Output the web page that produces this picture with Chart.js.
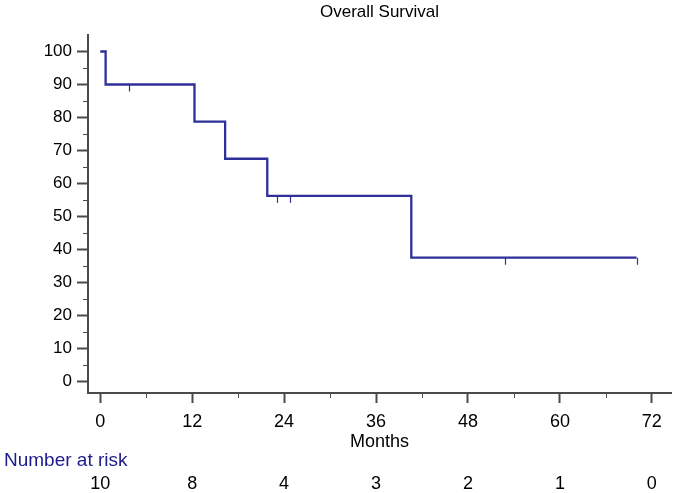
<!DOCTYPE html>
<html>
<head>
<meta charset="utf-8">
<script src="https://cdn.jsdelivr.net/npm/chart.js@4"></script>
<style>
  html, body { margin: 0; padding: 0; background: #fff; }
  #wrap { width: 676px; height: 493px; }
</style>
</head>
<body>
<div id="wrap"><canvas id="km" width="676" height="493"></canvas></div>
<script>
// Kaplan-Meier steps (months, % surviving)
const stepMonths = [0, 0.7, 12.3, 16.3, 21.8, 40.6, 70];
const stepSurvival = [100, 90, 78.75, 67.5, 56.25, 37.5, 37.5];

// censored observations
const censorMonths = [3.8, 23.1, 24.8, 52.8, 70];
const censorSurvival = [90, 56.25, 56.25, 37.5, 37.5];

// axis ticks
const xTicks = [0, 12, 24, 36, 48, 60, 72];
const yTicks = [0, 10, 20, 30, 40, 50, 60, 70, 80, 90, 100];

// number at risk under each x tick
const atRisk = [10, 8, 4, 3, 2, 1, 0];

const axisColor = '#4a4a4a';
const curveColor = '#2f2f9c';
const fontFamily = "'Liberation Sans', Arial, sans-serif";

// title, minor ticks, censor marks and the risk table
const extras = {
  id: 'extras',
  afterDraw(chart) {
    const ctx = chart.ctx;
    const xs = chart.scales.x;
    const ys = chart.scales.y;
    const area = chart.chartArea;
    ctx.save();

    // title centred over the plot area
    ctx.fillStyle = '#000';
    ctx.font = '17px ' + fontFamily;
    ctx.textAlign = 'center';
    ctx.textBaseline = 'middle';
    ctx.fillText('Overall Survival', (area.left + area.right) / 2, 12);

    // minor ticks
    ctx.strokeStyle = axisColor;
    ctx.lineWidth = 1;
    yTicks.slice(0, -1).forEach(v => {
      const py = Math.round(ys.getPixelForValue(v + 5)) + 0.5;
      ctx.beginPath();
      ctx.moveTo(area.left - 5, py);
      ctx.lineTo(area.left, py);
      ctx.stroke();
    });
    xTicks.slice(0, -1).forEach(v => {
      const px = Math.round(xs.getPixelForValue(v + 6)) + 0.5;
      ctx.beginPath();
      ctx.moveTo(px, area.bottom);
      ctx.lineTo(px, area.bottom + 5);
      ctx.stroke();
    });

    // censor marks
    ctx.strokeStyle = curveColor;
    ctx.lineWidth = 1.2;
    censorMonths.forEach((m, i) => {
      const px = Math.round(xs.getPixelForValue(m)) + 0.5;
      const py = ys.getPixelForValue(censorSurvival[i]);
      ctx.beginPath();
      ctx.moveTo(px, py);
      ctx.lineTo(px, py + 7);
      ctx.stroke();
    });

    // number at risk
    ctx.font = '19px ' + fontFamily;
    ctx.fillStyle = '#1c1c8c';
    ctx.textAlign = 'left';
    ctx.fillText('Number at risk', 4, 461);
    ctx.font = '18px ' + fontFamily;
    ctx.fillStyle = '#000';
    ctx.textAlign = 'center';
    xTicks.forEach((v, i) => {
      ctx.fillText(String(atRisk[i]), xs.getPixelForValue(v), 484);
    });
    ctx.restore();
  }
};

new Chart(document.getElementById('km'), {
  type: 'line',
  data: {
    datasets: [{
      data: stepMonths.map((m, i) => ({ x: m, y: stepSurvival[i] })),
      stepped: 'before',
      borderColor: curveColor,
      borderWidth: 2.3,
      pointRadius: 0,
      fill: false
    }]
  },
  options: {
    responsive: false,
    animation: false,
    layout: { padding: { left: 0, right: 5, top: 35, bottom: 0 } },
    plugins: {
      legend: { display: false },
      tooltip: { enabled: false },
      title: { display: false }
    },
    scales: {
      x: {
        type: 'linear',
        min: -1.6,
        max: 74.5,
        afterBuildTicks: s => { s.ticks = xTicks.map(v => ({ value: v })); },
        afterFit: s => { s.height = 100; },
        grid: { drawOnChartArea: false, tickLength: 10, tickWidth: 2, tickColor: axisColor },
        border: { display: true, color: axisColor, width: 2 },
        ticks: { color: '#000', font: { family: fontFamily, size: 18 }, padding: 8, maxRotation: 0 },
        title: {
          display: true,
          text: 'Months',
          color: '#000',
          font: { family: fontFamily, size: 18 },
          padding: { top: 0, bottom: 40 }
        }
      },
      y: {
        type: 'linear',
        min: -3.5,
        max: 105,
        afterBuildTicks: s => { s.ticks = yTicks.map(v => ({ value: v })); },
        afterFit: s => { s.width = 88; },
        grid: { drawOnChartArea: false, tickLength: 11, tickWidth: 2, tickColor: axisColor },
        border: { display: true, color: axisColor, width: 2 },
        ticks: { color: '#000', font: { family: fontFamily, size: 17 }, padding: 5 }
      }
    }
  },
  plugins: [extras]
});
</script>
</body>
</html>
